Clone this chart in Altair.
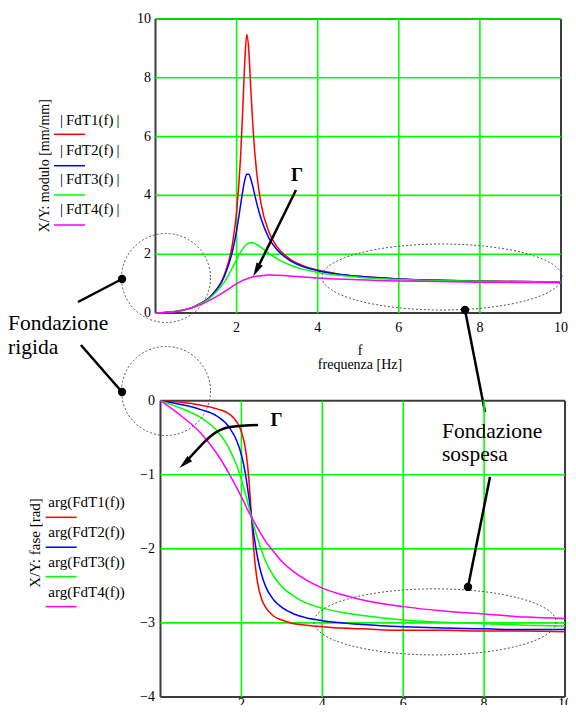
import altair as alt
import pandas as pd

# ---------------- data ----------------
freq = [0, 0.5, 1.0, 1.4, 1.7, 1.9, 2.0, 2.1, 2.15, 2.2, 2.25, 2.3, 2.35, 2.4,
        2.5, 2.6, 2.8, 3.0, 3.3, 3.6, 4.0, 4.5, 5, 6, 7, 8, 9, 10]
series = ["FdT1", "FdT2", "FdT3", "FdT4"]

mag_fdt1 = [0, 0.05, 0.25, 0.63, 1.31, 2.37, 3.44, 5.37, 6.86, 8.52, 9.47, 8.94, 7.63, 6.39,
            4.71, 3.74, 2.75, 2.25, 1.85, 1.63, 1.46, 1.33, 1.25, 1.16, 1.11, 1.09, 1.07, 1.05]
mag_fdt2 = [0, 0.05, 0.24, 0.62, 1.25, 2.11, 2.80, 3.69, 4.14, 4.51, 4.72, 4.72, 4.56, 4.30,
            3.71, 3.22, 2.54, 2.15, 1.80, 1.60, 1.44, 1.32, 1.25, 1.16, 1.11, 1.08, 1.07, 1.05]
mag_fdt3 = [0, 0.05, 0.24, 0.58, 1.06, 1.55, 1.82, 2.08, 2.18, 2.27, 2.34, 2.38, 2.39, 2.39,
            2.33, 2.23, 2.03, 1.84, 1.64, 1.50, 1.38, 1.28, 1.22, 1.14, 1.10, 1.08, 1.06, 1.05]
mag_fdt4 = [0, 0.05, 0.22, 0.48, 0.73, 0.91, 1.00, 1.07, 1.11, 1.14, 1.16, 1.19, 1.21, 1.23,
            1.25, 1.27, 1.29, 1.28, 1.26, 1.23, 1.19, 1.16, 1.13, 1.09, 1.07, 1.05, 1.04, 1.03]

ph_fdt1 = [0, -0.02, -0.06, -0.11, -0.18, -0.30, -0.42, -0.65, -0.86, -1.17, -1.57, -1.97, -2.26, -2.46,
           -2.68, -2.79, -2.91, -2.96, -3.01, -3.03, -3.05, -3.07, -3.08, -3.10, -3.10, -3.11, -3.11, -3.12]
ph_fdt2 = [0, -0.05, -0.12, -0.21, -0.36, -0.56, -0.73, -0.99, -1.17, -1.36, -1.57, -1.78, -1.96, -2.12,
           -2.35, -2.51, -2.69, -2.79, -2.88, -2.93, -2.97, -3.00, -3.02, -3.05, -3.07, -3.08, -3.09, -3.09]
ph_fdt3 = [0, -0.10, -0.23, -0.41, -0.65, -0.90, -1.07, -1.26, -1.36, -1.47, -1.57, -1.67, -1.77, -1.86,
           -2.03, -2.17, -2.37, -2.51, -2.64, -2.73, -2.80, -2.86, -2.90, -2.96, -2.99, -3.01, -3.03, -3.04]
ph_fdt4 = [0, -0.20, -0.44, -0.72, -0.99, -1.19, -1.30, -1.41, -1.47, -1.52, -1.57, -1.62, -1.67, -1.72,
           -1.81, -1.90, -2.04, -2.17, -2.31, -2.42, -2.53, -2.62, -2.69, -2.78, -2.84, -2.88, -2.92, -2.94]

mag_labels = ["|\u2009FdT1(f)\u2009|", "|\u2009FdT2(f)\u2009|", "|\u2009FdT3(f)\u2009|", "|\u2009FdT4(f)\u2009|"]
phase_labels = ["arg(FdT1(f))", "arg(FdT2(f))", "arg(FdT3(f))", "arg(FdT4(f))"]
colors = ["#ff0000", "#0000ff", "#00ff00", "#ff00ff"]

x_ticks = [2, 4, 6, 8, 10]
mag_ticks = [0, 2, 4, 6, 8, 10]
phase_ticks = [0, -1, -2, -3, -4]
grid_x = [2, 4, 6, 8]
grid_mag = [2, 4, 6, 8, 10]
grid_phase = [-1, -2, -3]
mag_domain = [0, 10]
phase_domain = [-4, 0]
f_domain = [0, 10]

# ---------------- helpers ----------------
SERIF = "Times New Roman, Liberation Serif, Times, serif"
GRID = "#00ff00"
FRAME = "#3c3c3c"
ANN = "#000000"
DASH = "#555555"

xt = alt.Scale(domain=f_domain, range=[0, 405.5], nice=False, zero=False)
yt = alt.Scale(domain=mag_domain, range=[294, 0], nice=False, zero=False)
xb = alt.Scale(domain=f_domain, range=[5, 409.5], nice=False, zero=False)
yb = alt.Scale(domain=phase_domain, range=[678, 381.7], nice=False, zero=False)
cscale = alt.Scale(domain=series, range=colors)


def fmt(v):
    return str(v).replace("-", "\u2212")


def long_df(arrays):
    rows = []
    for name, arr in zip(series, arrays):
        for f, v in zip(freq, arr):
            rows.append({"f": f, "v": v, "s": name})
    return pd.DataFrame(rows)


def segs(rows, xs, ys, color_field=False, **kw):
    cols = ["x", "y", "x2", "y2"] + (["s"] if color_field else [])
    ch = alt.Chart(pd.DataFrame(rows, columns=cols)).mark_rule(**kw)
    enc = dict(x=alt.X("x:Q", scale=xs, axis=None), y=alt.Y("y:Q", scale=ys, axis=None),
               x2="x2:Q", y2="y2:Q")
    if color_field:
        enc["color"] = alt.Color("s:N", scale=cscale, legend=None)
    return ch.encode(**enc)


def texts(rows, xs, ys, **kw):
    df = pd.DataFrame(rows, columns=["x", "y", "t"])
    return alt.Chart(df).mark_text(font=SERIF, color="black", **kw).encode(
        x=alt.X("x:Q", scale=xs, axis=None), y=alt.Y("y:Q", scale=ys, axis=None), text="t:N")


def points(rows, xs, ys, **kw):
    df = pd.DataFrame(rows, columns=["x", "y"])
    return alt.Chart(df).mark_point(opacity=1, **kw).encode(
        x=alt.X("x:Q", scale=xs, axis=None), y=alt.Y("y:Q", scale=ys, axis=None))


def frame(xd, yd):
    x0, x1 = xd
    y0, y1 = yd
    return [(x0, y0, x0, y1), (x0, y0, x1, y0), (x1, y0, x1, y1), (x0, y1, x1, y1)]


def curves(df, xs, ys):
    return alt.Chart(df).mark_line(strokeWidth=1.5, interpolate="monotone").encode(
        x=alt.X("f:Q", scale=xs, axis=None),
        y=alt.Y("v:Q", scale=ys, axis=None),
        color=alt.Color("s:N", scale=cscale, legend=None),
    )


ELL_T = "M-1,0 A1,0.275 0 1,0 1,0 A1,0.275 0 1,0 -1,0 Z"
ELL_B = "M-1,0 A1,0.273 0 1,0 1,0 A1,0.273 0 1,0 -1,0 Z"
HEAD = "M0,-1 L-0.5,1 L0.5,1 Z"

# ---------------- top panel: magnitude ----------------
mag_df = long_df([mag_fdt1, mag_fdt2, mag_fdt3, mag_fdt4])

top_legend_y_text = [6.565, 5.544, 4.541, 3.537]
top_legend_y_line = [6.078, 5.010, 4.014, 2.993]

top = alt.layer(
    segs(frame(f_domain, mag_domain), xt, yt, color=FRAME, strokeWidth=2),
    segs([(g, mag_domain[0], g, mag_domain[1]) for g in grid_x], xt, yt, color=GRID, strokeWidth=1.6),
    segs([(f_domain[0], g, f_domain[1], g) for g in grid_mag], xt, yt, color=GRID, strokeWidth=1.6),
    curves(mag_df, xt, yt),
    # tick labels
    texts([(t, mag_domain[0], fmt(t)) for t in x_ticks], xt, yt, fontSize=14, dy=15,
          align="center", baseline="middle"),
    texts([(f_domain[0], t, fmt(t)) for t in mag_ticks], xt, yt, fontSize=14, dx=-4.5,
          align="right", baseline="middle"),
    # legend
    segs([(-2.503, yy, -1.739, yy, s) for yy, s in zip(top_legend_y_line, series)], xt, yt,
         color_field=True, strokeWidth=1.5),
    texts([(-2.355, yy, t) for yy, t in zip(top_legend_y_text, mag_labels)], xt, yt,
          fontSize=15, align="left", baseline="middle"),
    texts([(-2.737, 5.01, "X/Y: modulo [mm/mm]")], xt, yt, fontSize=14, angle=270,
          align="center", baseline="middle"),
    texts([(5.043, -1.30, "f"), (5.043, -1.769, "frequenza [Hz]")], xt, yt, fontSize=14,
          align="center", baseline="middle"),
    # Fondazione rigida (top circle)
    points([(0.259, 1.19)], xt, yt, shape="circle", size=7921, filled=False, color=DASH,
           strokeWidth=1, strokeDash=[2, 2]),
    segs([(-1.911, 0.374, -0.826, 1.156)], xt, yt, color=ANN, strokeWidth=2.5),
    points([(-0.826, 1.156)], xt, yt, shape="circle", size=70, filled=True, color=ANN),
    texts([(-3.637, -0.578, "Fondazione"), (-3.637, -1.395, "rigida")], xt, yt,
          fontSize=21.5, align="left", baseline="alphabetic"),
    # Fondazione sospesa (top ellipse)
    points([(7.065, 1.224)], xt, yt, shape=ELL_T, size=57600, filled=False, color=DASH,
           strokeWidth=1, strokeDash=[2, 2]),
    segs([(7.633, 0.102, 8.126, -3.367)], xt, yt, color=ANN, strokeWidth=2.5),
    points([(7.633, 0.102)], xt, yt, shape="circle", size=70, filled=True, color=ANN),
    # Gamma arrow
    texts([(3.489, 4.694, "Γ")], xt, yt, fontSize=19, fontWeight="bold", align="center",
          baseline="middle"),
    segs([(3.465, 4.184, 2.488, 1.449)], xt, yt, color=ANN, strokeWidth=2.5),
    points([(2.488, 1.449)], xt, yt, shape=HEAD, size=196, filled=True, color=ANN, angle=208),
)

# ---------------- bottom panel: phase ----------------
ph_df = long_df([ph_fdt1, ph_fdt2, ph_fdt3, ph_fdt4])

bot_legend_y_text = [-1.374, -1.776, -2.173, -2.578]
bot_legend_y_line = [-1.574, -1.978, -2.375, -2.780]

arrow_path = pd.DataFrame({"x": [2.410, 1.587, 1.093, 0.596], "y": [-0.328, -0.372, -0.553, -0.845]})

bot = alt.layer(
    segs(frame(f_domain, phase_domain), xb, yb, color=FRAME, strokeWidth=2),
    segs([(g, phase_domain[0], g, phase_domain[1]) for g in grid_x], xb, yb, color=GRID, strokeWidth=1.6),
    segs([(f_domain[0], g, f_domain[1], g) for g in grid_phase], xb, yb, color=GRID, strokeWidth=1.6),
    curves(ph_df, xb, yb),
    # tick labels
    texts([(t, phase_domain[0], fmt(t)) for t in x_ticks], xb, yb, fontSize=14, dy=11,
          align="center", baseline="alphabetic"),
    texts([(f_domain[0], t, fmt(t)) for t in phase_ticks], xb, yb, fontSize=14, dx=-5.5,
          align="right", baseline="middle"),
    # legend
    segs([(-2.838, yy, -2.072, yy, s) for yy, s in zip(bot_legend_y_line, series)], xb, yb,
         color_field=True, strokeWidth=1.5),
    texts([(-2.774, yy, t) for yy, t in zip(bot_legend_y_text, phase_labels)], xb, yb,
          fontSize=15, align="left", baseline="middle"),
    texts([(-3.103, -1.92, "X/Y: fase [rad]")], xb, yb, fontSize=15, angle=270,
          align="center", baseline="middle"),
    # bottom-left circle
    points([(0.136, 0.131)], xb, yb, shape="circle", size=7921, filled=False, color=DASH,
           strokeWidth=1, strokeDash=[2, 2]),
    segs([(-1.968, 0.752, -0.952, 0.117)], xb, yb, color=ANN, strokeWidth=2.5),
    points([(-0.952, 0.117)], xb, yb, shape="circle", size=70, filled=True, color=ANN),
    # bottom ellipse
    points([(6.786, -2.986)], xb, yb, shape=ELL_B, size=58564, filled=False, color=DASH,
           strokeWidth=1, strokeDash=[2, 2]),
    segs([(7.602, -2.514, 8.146, -1.031)], xb, yb, color=ANN, strokeWidth=2.5),
    points([(7.602, -2.514)], xb, yb, shape="circle", size=70, filled=True, color=ANN),
    texts([(6.959, -0.503, "Fondazione"), (6.959, -0.820, "sospesa")], xb, yb,
          fontSize=21.5, align="left", baseline="alphabetic"),
    # Gamma curved arrow
    texts([(2.868, -0.26, "Γ")], xb, yb, fontSize=19, fontWeight="bold", align="center",
          baseline="middle"),
    alt.Chart(arrow_path).mark_line(color=ANN, strokeWidth=2.5, interpolate="natural").encode(
        x=alt.X("x:Q", scale=xb, axis=None), y=alt.Y("y:Q", scale=yb, axis=None)),
    points([(0.596, -0.845)], xb, yb, shape=HEAD, size=196, filled=True, color=ANN, angle=228),
)

chart = alt.layer(top, bot).resolve_scale(x="independent", y="independent").properties(
    width=410, height=678,
    autosize=alt.AutoSizeParams(type="none"),
    padding={"left": 147.5, "top": 11, "right": 2.5, "bottom": 8},
).configure_view(strokeWidth=0)

chart.save("out.html", embed_options={"renderer": "svg", "actions": False})
